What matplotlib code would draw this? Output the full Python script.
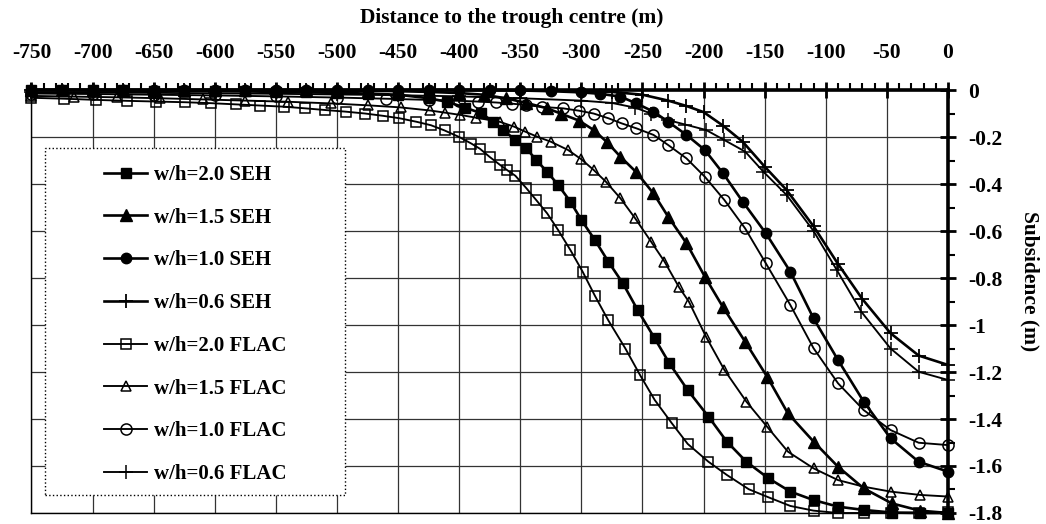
#!/usr/bin/env python3

# subsidence troughs, SEH vs FLAC, for several w/h ratios

import matplotlib as mpl
from matplotlib import pyplot as plt
from matplotlib.patches import Rectangle
from matplotlib.ticker import MultipleLocator, FuncFormatter

mpl.rcParams["font.family"] = "Liberation Serif"
mpl.rcParams["font.weight"] = "bold"
mpl.rcParams["axes.unicode_minus"] = False

# distance to trough centre (m) and subsidence (m)
x_seh20 = [-750, -725, -700, -675, -650, -625, -600, -575, -550, -525,
           -500, -475, -450, -425, -410, -395, -382, -372, -364, -354,
           -345, -337, -328, -319, -309, -300, -289, -278, -266, -254,
           -240, -228, -213, -196, -181, -165, -147, -129, -110, -90,
           -69, -46, -23, 0]
y_seh20 = [0, 0, 0, -0.002, -0.003, -0.004, -0.005, -0.006, -0.008, -0.01,
           -0.012, -0.015, -0.02, -0.035, -0.05, -0.075, -0.099, -0.135, -0.17, -0.213,
           -0.248, -0.298, -0.348, -0.404, -0.475, -0.553, -0.638, -0.73, -0.823, -0.936,
           -1.057, -1.163, -1.277, -1.39, -1.496, -1.582, -1.652, -1.709, -1.745, -1.773,
           -1.787, -1.798, -1.8, -1.8]

x_seh15 = [-750, -725, -700, -675, -650, -625, -600, -575, -550, -525,
           -500, -475, -450, -425, -400, -380, -362, -345, -328, -317,
           -302, -290, -279, -268, -255, -241, -229, -214, -199, -184,
           -166, -148, -131, -110, -90, -69, -46, -23, 0]
y_seh15 = [0, 0, 0, 0, 0, 0, 0, 0, 0, 0,
           -0.002, -0.003, -0.005, -0.008, -0.013, -0.02, -0.035, -0.055, -0.078, -0.1,
           -0.13, -0.17, -0.222, -0.284, -0.35, -0.44, -0.539, -0.652, -0.794, -0.925,
           -1.071, -1.22, -1.376, -1.496, -1.603, -1.695, -1.759, -1.79, -1.8]

x_seh10 = [-750, -725, -700, -675, -650, -625, -600, -575, -550, -525,
           -500, -475, -450, -425, -400, -375, -350, -325, -300, -285,
           -268, -255, -241, -229, -214, -199, -184, -168, -149, -129,
           -110, -90, -69, -47, -24, 0]
y_seh10 = [0, 0, 0, 0, 0, 0, 0, 0, 0, 0,
           0, 0, 0, 0, 0, 0, -0.002, -0.005, -0.01, -0.016,
           -0.028, -0.057, -0.092, -0.135, -0.191, -0.255, -0.355, -0.475, -0.61, -0.773,
           -0.972, -1.149, -1.326, -1.482, -1.582, -1.624]

x_seh06 = [-750, -725, -700, -675, -650, -625, -600, -575, -550, -525,
           -500, -475, -450, -425, -400, -375, -350, -325, -300, -275,
           -250, -229, -214, -200, -184, -168, -150, -132, -110, -90,
           -70, -47, -24, 0]
y_seh06 = [0, 0, 0, 0, 0, 0, 0, 0, 0, 0,
           0, 0, 0, 0, 0, 0, 0, -0.002, -0.004, -0.008,
           -0.02, -0.045, -0.068, -0.094, -0.152, -0.22, -0.326, -0.426, -0.58, -0.74,
           -0.89, -1.035, -1.13, -1.17]

x_flac20 = [-750, -723, -697, -672, -648, -624, -603, -583, -563, -543,
            -526, -510, -493, -477, -462, -449, -435, -423, -412, -400,
            -390, -383, -375, -367, -361, -354, -345, -337, -328, -319,
            -309, -299, -289, -278, -264, -252, -240, -226, -213, -196,
            -181, -163, -147, -129, -110, -90, -69, -47, -24, 0]
y_flac20 = [-0.033, -0.037, -0.042, -0.046, -0.049, -0.052, -0.056, -0.061, -0.066, -0.071,
            -0.078, -0.085, -0.092, -0.1, -0.11, -0.12, -0.135, -0.15, -0.172, -0.2,
            -0.228, -0.25, -0.285, -0.317, -0.34, -0.365, -0.418, -0.468, -0.525, -0.596,
            -0.681, -0.773, -0.875, -0.98, -1.1, -1.213, -1.319, -1.418, -1.506, -1.582,
            -1.638, -1.699, -1.733, -1.77, -1.79, -1.8, -1.8, -1.8, -1.798, -1.795]

x_flac15 = [-750, -715, -680, -645, -610, -575, -540, -505, -475, -448,
            -424, -412, -399, -386, -367, -355, -346, -336, -325, -311,
            -300, -290, -280, -268, -256, -243, -232, -220, -212, -198,
            -183, -165, -148, -131, -110, -90, -69, -47, -23, 0]
y_flac15 = [-0.025, -0.028, -0.031, -0.035, -0.04, -0.045, -0.05, -0.057, -0.065, -0.074,
            -0.087, -0.096, -0.106, -0.118, -0.135, -0.156, -0.177, -0.199, -0.22, -0.255,
            -0.295, -0.34, -0.39, -0.461, -0.546, -0.645, -0.73, -0.84, -0.901, -1.05,
            -1.191, -1.326, -1.433, -1.539, -1.61, -1.66, -1.688, -1.709, -1.723, -1.73]

x_flac10 = [-750, -700, -650, -600, -550, -500, -460, -425, -400, -385,
            -370, -357, -345, -332, -315, -302, -290, -278, -267, -255,
            -241, -229, -214, -199, -183, -166, -149, -129, -110, -90,
            -69, -47, -24, 0]
y_flac10 = [-0.015, -0.017, -0.02, -0.023, -0.027, -0.032, -0.037, -0.042, -0.046, -0.049,
            -0.053, -0.058, -0.064, -0.072, -0.078, -0.088, -0.1, -0.12, -0.142, -0.163,
            -0.191, -0.234, -0.291, -0.369, -0.468, -0.589, -0.738, -0.915, -1.099, -1.248,
            -1.362, -1.447, -1.501, -1.511]

x_flac06 = [-750, -700, -650, -600, -550, -500, -450, -400, -350, -300,
            -275, -256, -243, -229, -215, -198, -183, -166, -151, -132,
            -110, -91, -71, -47, -24, 0]
y_flac06 = [-0.01, -0.011, -0.012, -0.014, -0.016, -0.019, -0.022, -0.027, -0.035, -0.045,
            -0.055, -0.075, -0.1, -0.128, -0.147, -0.17, -0.213, -0.262, -0.348, -0.447,
            -0.6, -0.766, -0.943, -1.1, -1.199, -1.234]

labels = ["w/h=2.0 SEH", "w/h=1.5 SEH", "w/h=1.0 SEH", "w/h=0.6 SEH",
          "w/h=2.0 FLAC", "w/h=1.5 FLAC", "w/h=1.0 FLAC", "w/h=0.6 FLAC"]

fig = plt.figure(figsize=(10.46, 5.24), dpi=100)
ax = fig.add_axes([0.0301, 0.021, 0.8762, 0.8072])

seh_kw = dict(color="k", lw=1.9, clip_on=False, zorder=3)
flac_kw = dict(color="k", lw=1.35, clip_on=False, zorder=3)

ax.plot(x_seh20, y_seh20, marker="s", ms=7, mfc="k", label=labels[0], **seh_kw)
ax.plot(x_seh15, y_seh15, marker="^", ms=8, mfc="k", label=labels[1], **seh_kw)
ax.plot(x_seh10, y_seh10, marker="o", ms=7.5, mfc="k", label=labels[2], **seh_kw)
ax.plot(x_seh06, y_seh06, marker="+", ms=10, mew=1.3, label=labels[3], **seh_kw)
ax.plot(x_flac20, y_flac20, marker="s", ms=7, mfc="none", mew=1.1, label=labels[4], **flac_kw)
ax.plot(x_flac15, y_flac15, marker="^", ms=7.5, mfc="none", mew=1.1, label=labels[5], **flac_kw)
ax.plot(x_flac10, y_flac10, marker="o", ms=8, mfc="none", mew=1.1, label=labels[6], **flac_kw)
ax.plot(x_flac06, y_flac06, marker="+", ms=10, mew=1.1, label=labels[7], **flac_kw)

ax.set_xlim(-750, 0)
ax.set_ylim(-1.8, 0)

ax.xaxis.tick_top()
ax.yaxis.tick_right()
ax.xaxis.set_major_locator(MultipleLocator(50))
ax.xaxis.set_minor_locator(MultipleLocator(10))
ax.yaxis.set_major_locator(MultipleLocator(0.2))
ax.yaxis.set_minor_locator(MultipleLocator(0.1))
fmt = FuncFormatter(lambda v, p: "{0:g}".format(round(v, 2) + 0))
ax.xaxis.set_major_formatter(fmt)
ax.yaxis.set_major_formatter(fmt)

ax.tick_params(axis="x", which="major", direction="inout", length=11, width=2,
               labelsize=15.5, pad=14)
ax.tick_params(axis="x", which="minor", direction="out", length=5, width=1.5)
ax.tick_params(axis="y", which="major", direction="inout", length=11, width=2,
               labelsize=15.5, pad=9)
ax.tick_params(axis="y", which="minor", direction="out", length=5, width=1.5)

ax.grid(True, which="major", color="#333333", lw=0.9)
ax.set_axisbelow(True)

for s in ["top", "right"]:
    ax.spines[s].set_linewidth(2.6)
for s in ["left", "bottom"]:
    ax.spines[s].set_linewidth(1.0)

fig.text(512 / 1046, 1 - 18 / 524, "Distance to the trough centre (m)",
         ha="center", va="center", fontsize=15.5, fontweight="bold")
fig.text(1030 / 1046, 1 - 281 / 524, "Subsidence (m)", rotation=270,
         ha="center", va="center", fontsize=15.5, fontweight="bold")

# legend box drawn by hand so it can be wider than its content
box = Rectangle((0.0147, 0.0426), 0.3273, 0.8204, transform=ax.transAxes,
                facecolor="white", edgecolor="k", ls=":", lw=1.0, zorder=4)
ax.add_patch(box)
leg = ax.legend(loc="center", bbox_to_anchor=(0.1784, 0.4456), frameon=False,
                fontsize=15, handlelength=2.1, handletextpad=0.3, labelspacing=1.09)
leg.set_zorder(5)

plt.savefig("out.png", dpi=100)
